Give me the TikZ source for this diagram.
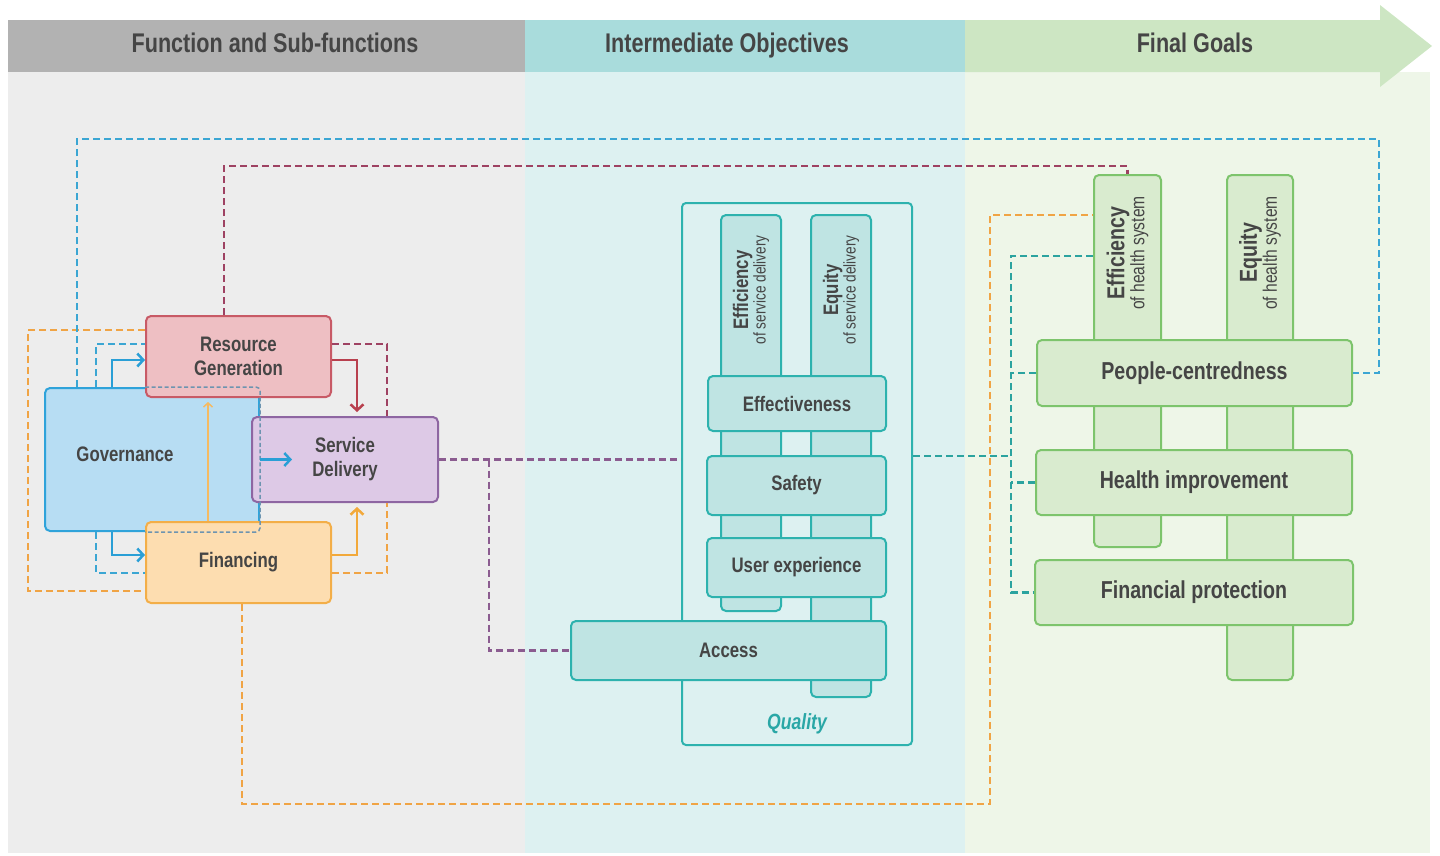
\documentclass[tikz,border=0pt]{standalone}
\usepackage{fontspec}
\setmainfont[FakeStretch=0.8]{Liberation Sans}
\usetikzlibrary{arrows.meta}

\definecolor{ink}{HTML}{454545}
\definecolor{hdgray}{HTML}{B2B2B2}
\definecolor{bdgray}{HTML}{EDEDED}
\definecolor{hdteal}{HTML}{A9DCDC}
\definecolor{bdteal}{HTML}{DDF1F1}
\definecolor{hdgreen}{HTML}{CDE6C3}
\definecolor{bdgreen}{HTML}{EEF6E8}
\definecolor{govfill}{HTML}{B7DDF3}
\definecolor{govline}{HTML}{2FA3DA}
\definecolor{rgfill}{HTML}{EEBFC3}
\definecolor{rgline}{HTML}{C85A66}
\definecolor{sdfill}{HTML}{DDC9E6}
\definecolor{sdline}{HTML}{8E66A2}
\definecolor{finfill}{HTML}{FDDDB0}
\definecolor{finline}{HTML}{F3AE48}
\definecolor{tfill}{HTML}{BFE4E3}
\definecolor{tline}{HTML}{2DB2AE}
\definecolor{gfill}{HTML}{D9EBCF}
\definecolor{gline}{HTML}{7DC46C}
\definecolor{qtext}{HTML}{2AA7A6}
\definecolor{dblue}{HTML}{3BA6D3}
\definecolor{dmaroon}{HTML}{9E4262}
\definecolor{dpurple}{HTML}{8B5C90}
\definecolor{dorange}{HTML}{F0A445}
\definecolor{dteal}{HTML}{2BA39F}
\definecolor{hidden}{HTML}{6D94B0}
\definecolor{redarr}{HTML}{B8404E}
\definecolor{orarr}{HTML}{F2A93B}
\definecolor{bluearr}{HTML}{2A9FD6}

\begin{document}
\begin{tikzpicture}[x=1pt,y=-1pt,
  sz/.style 2 args={minimum width=#1pt,minimum height=#2pt},
  box/.style={draw,rounded corners=5pt,line width=2pt,inner sep=0pt,text=ink,align=center,font=\fontsize{21}{24}\selectfont\bfseries},
  govbox/.style={box,draw=govline,fill=govfill},
  rgbox/.style={box,draw=rgline,fill=rgfill},
  sdbox/.style={box,draw=sdline,fill=sdfill},
  finbox/.style={box,draw=finline,fill=finfill},
  tbox/.style={box,draw=tline,fill=tfill},
  gbox/.style={box,draw=gline,fill=gfill,font=\fontsize{24.5}{28}\selectfont\bfseries},
  lft/.style={text=ink,font=\fontsize{21}{24}\selectfont\bfseries},
  head/.style={text=ink,font=\fontsize{27}{30}\selectfont\bfseries,text height=19pt,text depth=6pt},
  rot/.style={rotate=90,align=center,text=ink,inner sep=0pt},
  dsh/.style={line width=2.5pt,dash pattern=on 7pt off 4pt},
  arr/.style={line width=2.5pt,-{Straight Barb[length=6pt,width=13pt]}},
]
\useasboundingbox (0,0) rectangle (1440,855);

% columns
\fill[bdgray] (8,72) rectangle (525,853);
\fill[bdteal] (525,72) rectangle (965,853);
\fill[bdgreen] (965,72) rectangle (1430,853);
\fill[hdgray] (8,20) rectangle (525,72);
\fill[hdteal] (525,20) rectangle (965,72);
\fill[hdgreen] (965,20) -- (1380,20) -- (1380,5) -- (1432,46) -- (1380,87) -- (1380,72) -- (965,72) -- cycle;

\node[head] (hfun) at (275,46) {Function and Sub-functions};
\node[head] (hint) at (727,46) {Intermediate Objectives};
\node[head] (hfin) at (1195,46) {Final Goals};

% functions
\node[govbox,sz={214}{143},label={[lft,xshift=-27pt,yshift=5.5pt]center:Governance}] (gov) at (152,459.5) {};
\node[rgbox,sz={185}{81}] (rg) at (238.5,356.5) {Resource\\Generation};
\node[finbox,sz={185}{81}] (fin) at (238.5,562.5) {Financing};
\node[sdbox,sz={186}{85}] (sd) at (345,459.5) {Service\\Delivery};

\draw[hidden,line width=1.5pt,dash pattern=on 4pt off 2.5pt,rounded corners=4pt]
  (rg.west |- gov.north) -- (gov.north east) -- (gov.south east) -- (fin.west |- gov.south);

\coordinate (sdin) at ([xshift=41pt]sd.west);
\draw[arr,bluearr] ([xshift=68pt]gov.north west) |- ([yshift=-3.5pt]rg.west);
\draw[arr,bluearr] ([xshift=68pt]gov.south west) |- ([yshift=7.5pt]fin.west);
\draw[arr,bluearr] (gov.east) -- (sdin |- gov.east);
\draw[arr,redarr,shorten >=4pt] ([yshift=-3.5pt]rg.east) -| ([xshift=12pt]sd.north);
\draw[arr,orarr,shorten >=4pt] ([yshift=7.5pt]fin.east) -| ([xshift=12pt]sd.south);
\draw[orarr!80,line width=1.5pt,-{Straight Barb[length=4pt,width=9pt]},shorten >=4pt]
  ([xshift=-30.5pt]fin.north) -- ([xshift=-30.5pt]rg.south);

\draw[dsh,dblue] ([xshift=52pt]gov.north west) |- ([yshift=12.5pt]rg.west);
\draw[dsh,dblue] ([xshift=52pt]gov.south west) |- ([yshift=-10.5pt]fin.west);
\draw[dsh,dorange] ([yshift=26.5pt]rg.west) -- ++(-117,0) |- ([yshift=-28.5pt]fin.west);
\draw[dsh,dmaroon] ([yshift=12.5pt]rg.east) -| ([xshift=42pt]sd.north);
\draw[dsh,dorange] ([yshift=-10.5pt]fin.east) -| ([xshift=42pt]sd.south);

% intermediate objectives
\node[draw=tline,line width=2pt,rounded corners=4pt,sz={230}{542}] (quality) at (797,474) {};
\node[text=qtext,font=\fontsize{22}{24}\selectfont\bfseries\itshape] (qlabel) at ([yshift=22pt]quality.south) {Quality};
\node[tbox,sz={60}{396}] (effsd) at (751,413) {};
\node[tbox,sz={60}{482}] (equsd) at (841,456) {};
\node[rot] (effsdtxt) at ([yshift=123pt]effsd.center)
  {{\fontsize{21}{20}\selectfont\bfseries Efficiency}\\{\fontsize{17}{17}\selectfont of service delivery}};
\node[rot] (equsdtxt) at ([yshift=166pt]equsd.center)
  {{\fontsize{21}{20}\selectfont\bfseries Equity}\\{\fontsize{17}{17}\selectfont of service delivery}};
\node[tbox,sz={178}{55}] (eff) at (797,403.5) {Effectiveness};
\node[tbox,sz={179}{59}] (saf) at (796.5,485.5) {Safety};
\node[tbox,sz={179}{59}] (ux) at (796.5,567.5) {User experience};
\node[tbox,sz={315}{59}] (access) at (728.5,650.5) {Access};

\draw[dsh,dpurple] (sd.east) -- (sd.east -| quality.west);
\draw[dsh,dpurple] ([xshift=50pt]sd.east) |- (access.west);

% final goals
\node[gbox,sz={67}{372}] (effhs) at (1127.5,361) {};
\node[gbox,sz={66}{505}] (equhs) at (1260,427.5) {};
\node[rot] (effhstxt) at ([yshift=108pt]effhs.center)
  {{\fontsize{24.5}{23}\selectfont\bfseries Efficiency}\\{\fontsize{19.5}{19}\selectfont of health system}};
\node[rot] (equhstxt) at ([yshift=174.5pt]equhs.center)
  {{\fontsize{24.5}{23}\selectfont\bfseries Equity}\\{\fontsize{19.5}{19}\selectfont of health system}};
\node[gbox,sz={315}{66}] (pc) at (1194.5,373) {People-centredness};
\node[gbox,sz={316}{65}] (hi) at (1194,482.5) {Health improvement};
\node[gbox,sz={318}{65}] (fp) at (1194,592.5) {Financial protection};

\coordinate (tbus) at (1011,456);
\draw[dsh,dteal] ([yshift=18pt]quality.east) -- (tbus);
\draw[dsh,dteal] ([yshift=105pt]effhs.west) -| (tbus |- fp.west) -- (fp.west);
\draw[dsh,dteal] (pc.west) -- (pc.west -| tbus);
\draw[dsh,dteal] (hi.west) -- (hi.west -| tbus);

\coordinate (bluetop) at (1379,139);
\coordinate (redtop) at (1127.5,166);
\coordinate (orbot) at (990,804);
\draw[dsh,dblue] ([xshift=33pt]gov.north west) |- (bluetop) |- (pc.east);
\draw[dsh,dmaroon] ([xshift=-14.5pt]rg.north) |- (redtop) -- (effhs.north);
\draw[dsh,dorange] ([xshift=3.5pt]fin.south) |- (orbot) |- ([yshift=146pt]effhs.west);
\end{tikzpicture}
\end{document}
